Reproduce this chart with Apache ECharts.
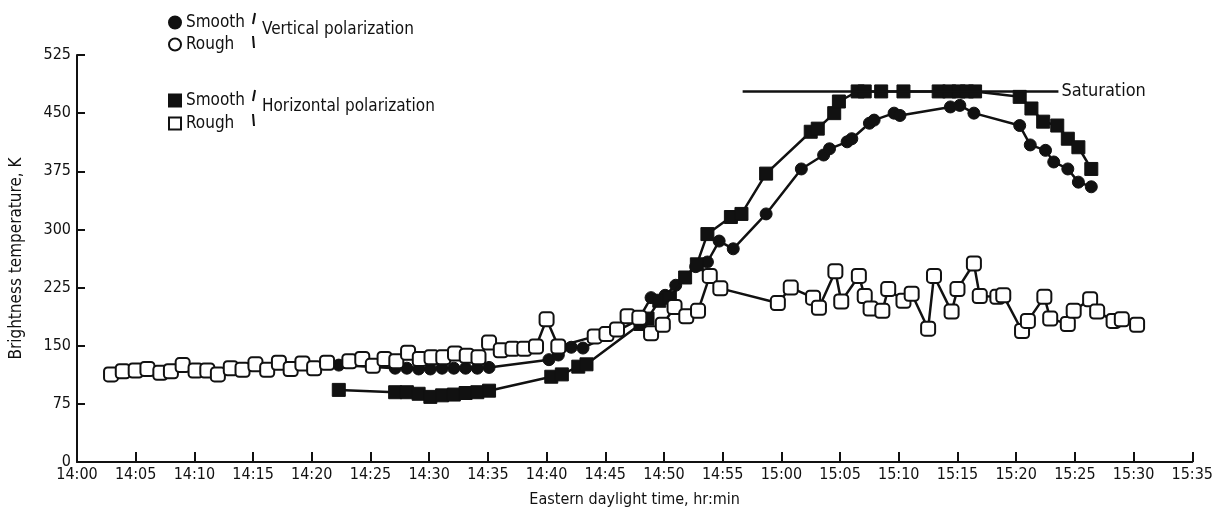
<!DOCTYPE html>
<html>
<head>
<meta charset="utf-8">
<script src="https://cdn.jsdelivr.net/npm/echarts@6/dist/echarts.min.js"></script>
<style>
  html, body { margin: 0; padding: 0; background: #fff; }
  #chart { width: 1216px; height: 515px; }
</style>
</head>
<body>
<div id="chart"></div>
<script>
// minutes after 14:00 and brightness temperature (K)
var vSmoothTime = [22.3, 27.1, 28.1, 29.1, 30.1, 31.1, 32.1, 33.1, 34.1, 35.1,
    40.2, 41.0, 42.1, 43.1, 47.8, 48.9, 50.1, 51.0, 52.7, 53.7, 54.7, 55.9,
    58.7, 61.7, 63.6, 64.1, 65.6, 66.0, 67.5, 67.9, 69.6, 70.1, 74.4, 75.2,
    76.4, 80.3, 81.2, 82.5, 83.2, 84.4, 85.3, 86.4];
var vSmoothTemp = [125, 121, 121, 120, 120, 121, 121, 121, 121, 122,
    132, 138, 148, 147, 183, 212, 215, 228, 252, 258, 285, 275,
    320, 378, 396, 404, 413, 417, 437, 441, 450, 447, 458, 460,
    450, 434, 409, 402, 387, 378, 361, 355];

var vRoughTime = [];
var vRoughTemp = [];

var hSmoothTime = [22.3, 27.1, 28.1, 29.1, 30.1, 31.1, 32.1, 33.1, 34.1, 35.1,
    40.4, 41.3, 42.7, 43.4, 48.0, 48.6, 49.6, 50.5, 51.8, 52.8, 53.7, 55.7,
    56.6, 58.7, 62.5, 63.1, 64.5, 64.9, 66.5, 67.1, 68.5, 70.4, 73.4, 74.3,
    75.1, 75.8, 76.5, 80.3, 81.3, 82.3, 83.5, 84.4, 85.3, 86.4];
var hSmoothTemp = [93, 90, 90, 88, 84, 86, 87, 89, 90, 92,
    110, 113, 123, 126, 178, 185, 208, 212, 238, 255, 294, 316,
    320, 372, 426, 430, 450, 465, 478, 478, 478, 478, 478, 478,
    478, 478, 478, 471, 456, 439, 434, 417, 406, 378];

var hRoughTime = [2.9, 3.9, 5.0, 6.0, 7.1, 8.0, 9.0, 10.1, 11.1, 12.0,
    13.1, 14.1, 15.2, 16.2, 17.2, 18.2, 19.2, 20.2, 21.3, 23.2, 24.3, 25.2,
    26.2, 27.2, 28.2, 29.2, 30.2, 31.2, 32.2, 33.2, 34.2, 35.1, 36.1, 37.1,
    38.1, 39.1, 40.0, 41.0, 44.1, 45.1, 46.0, 46.9, 47.9, 48.9, 49.9, 50.9,
    51.9, 52.9, 53.9, 54.8, 59.7, 60.8, 62.7, 63.2, 64.6, 65.1, 66.6, 67.1,
    67.6, 68.6, 69.1, 70.4, 71.1, 72.5, 73.0, 74.5, 75.0, 76.4, 76.9, 78.4,
    78.9, 80.5, 81.0, 82.4, 82.9, 84.4, 84.9, 86.3, 86.9, 88.3, 89.0, 90.3];
var hRoughTemp = [113, 117, 118, 120, 115, 117, 125, 118, 118, 113,
    121, 119, 126, 119, 128, 120, 127, 121, 128, 130, 133, 124,
    133, 130, 141, 133, 135, 135, 140, 137, 135, 154, 144, 146,
    146, 149, 184, 149, 162, 165, 171, 188, 186, 166, 177, 200,
    188, 195, 240, 224, 205, 225, 212, 199, 246, 207, 240, 214,
    198, 195, 223, 208, 217, 172, 240, 194, 223, 256, 214, 213,
    215, 169, 182, 213, 185, 178, 195, 210, 194, 182, 184, 177];

var saturation = 478;
var saturationFrom = 56.7;
var saturationTo = 83.6;

var xTicks = ['14:00', '14:05', '14:10', '14:15', '14:20', '14:25', '14:30', '14:35',
    '14:40', '14:45', '14:50', '14:55', '15:00', '15:05', '15:10', '15:15',
    '15:20', '15:25', '15:30', '15:35'];

function pairs(t, v) {
    var out = [];
    for (var i = 0; i < t.length; i++) out.push([t[i], v[i]]);
    return out;
}

var font = "'Liberation Sans Narrow', 'DejaVu Sans Condensed', 'Roboto Condensed', 'Liberation Sans', sans-serif";
var black = '#111';

var chart = echarts.init(document.getElementById('chart'));

var option = {
    backgroundColor: '#fff',
    animation: false,
    textStyle: { fontFamily: font, color: black },
    grid: { left: 77, right: 20, top: 55, bottom: 53 },
    legend: [
        {
            left: 163, top: 9, orient: 'vertical', itemGap: 5,
            itemWidth: 12, itemHeight: 12,
            textStyle: { fontSize: 17, color: black, fontFamily: font },
            formatter: function (n) { return n.split(' ')[1]; },
            data: [
                { name: 'Vertical Smooth', icon: 'circle' },
                { name: 'Vertical Rough', icon: 'circle' }
            ]
        },
        {
            left: 163, top: 87, orient: 'vertical', itemGap: 6,
            itemWidth: 12, itemHeight: 12,
            textStyle: { fontSize: 17, color: black, fontFamily: font },
            formatter: function (n) { return n.split(' ')[1]; },
            data: [
                { name: 'Horizontal Smooth', icon: 'rect' },
                { name: 'Horizontal Rough', icon: 'rect' }
            ]
        }
    ],
    graphic: [
        { type: 'line', shape: { x1: 253, y1: 24, x2: 255, y2: 13 }, style: { stroke: black, lineWidth: 2 } },
        { type: 'line', shape: { x1: 253, y1: 36, x2: 254, y2: 48 }, style: { stroke: black, lineWidth: 2 } },
        { type: 'text', left: 262, top: 21, style: { text: 'Vertical polarization', font: '17px ' + font, fill: black } },
        { type: 'line', shape: { x1: 253, y1: 101, x2: 255, y2: 90 }, style: { stroke: black, lineWidth: 2 } },
        { type: 'line', shape: { x1: 253, y1: 114, x2: 254, y2: 126 }, style: { stroke: black, lineWidth: 2 } },
        { type: 'text', left: 262, top: 98, style: { text: 'Horizontal polarization', font: '17px ' + font, fill: black } }
    ],
    xAxis: {
        type: 'value', min: 0, max: 95, interval: 5,
        name: 'Eastern daylight time, hr:min',
        nameLocation: 'middle', nameGap: 30,
        nameTextStyle: { fontSize: 16, color: black },
        axisLine: { lineStyle: { color: black, width: 2 } },
        axisTick: { inside: true, length: 10, lineStyle: { color: black, width: 2 } },
        axisLabel: {
            fontSize: 16, color: black, margin: 5,
            formatter: function (v) { return xTicks[Math.round(v / 5)]; }
        },
        splitLine: { show: false }
    },
    yAxis: {
        type: 'value', min: 0, max: 525, interval: 75,
        name: 'Brightness temperature, K',
        nameLocation: 'middle', nameGap: 52,
        nameTextStyle: { fontSize: 17, color: black },
        axisLine: { show: true, lineStyle: { color: black, width: 2 } },
        axisTick: { show: true, inside: true, length: 8, lineStyle: { color: black, width: 2 } },
        axisLabel: { fontSize: 16, color: black, margin: 6 },
        splitLine: { show: false }
    },
    series: [
        {
            name: 'Vertical Smooth', type: 'line',
            data: pairs(vSmoothTime, vSmoothTemp),
            symbol: 'circle', symbolSize: 12,
            lineStyle: { color: black, width: 2.5 },
            itemStyle: { color: black, borderColor: black, borderWidth: 1 },
            z: 3
        },
        {
            name: 'Vertical Rough', type: 'line',
            data: pairs(vRoughTime, vRoughTemp),
            symbol: 'circle', symbolSize: 12,
            lineStyle: { color: black, width: 2.5 },
            itemStyle: { color: '#fff', borderColor: black, borderWidth: 2 },
            z: 3
        },
        {
            name: 'Horizontal Smooth', type: 'line',
            data: pairs(hSmoothTime, hSmoothTemp),
            symbol: 'rect', symbolSize: 13,
            lineStyle: { color: black, width: 2.5 },
            itemStyle: { color: black, borderColor: black, borderWidth: 1 },
            z: 4,
            markLine: {
                silent: true, symbol: 'none',
                lineStyle: { color: black, width: 2.5, type: 'solid' },
                label: { show: true, position: 'end', formatter: 'Saturation', fontSize: 18, color: black, fontFamily: font, distance: 3 },
                data: [[{ coord: [saturationFrom, saturation] }, { coord: [saturationTo, saturation] }]]
            }
        },
        {
            name: 'Horizontal Rough', type: 'line',
            data: pairs(hRoughTime, hRoughTemp),
            symbol: 'roundRect', symbolSize: 14,
            lineStyle: { color: black, width: 2.5 },
            itemStyle: { color: '#fff', borderColor: black, borderWidth: 2 },
            z: 5
        }
    ]
};

chart.setOption(option);
</script>
</body>
</html>
